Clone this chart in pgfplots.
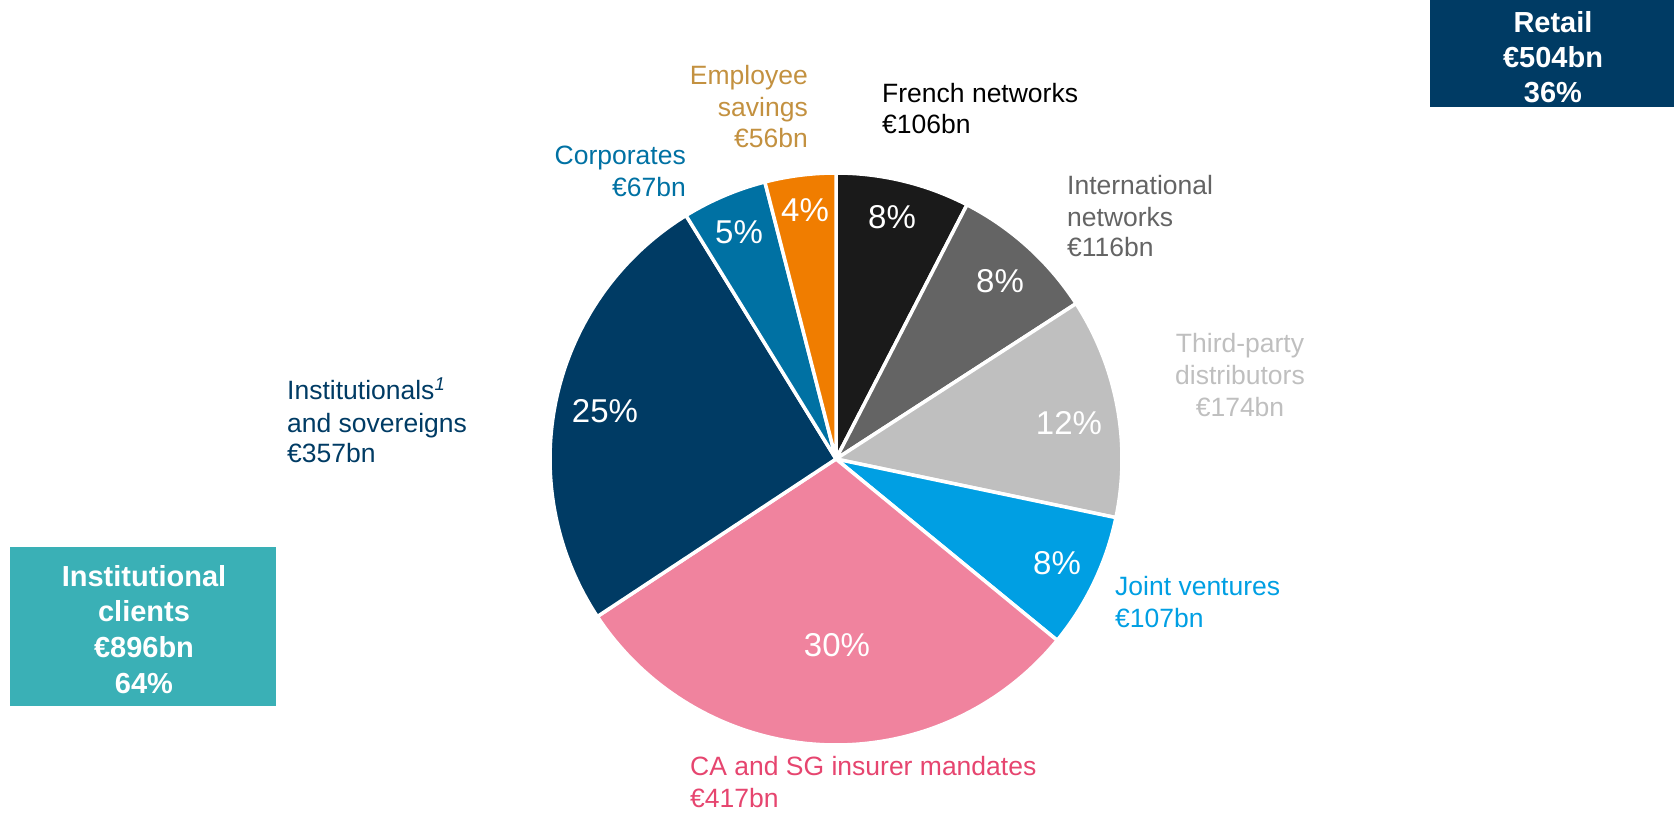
\documentclass[border=0pt]{standalone}
\usepackage{pgfplots}
\pgfplotsset{compat=1.18}
\usepackage{fontspec}
\setmainfont{Liberation Sans}
\definecolor{cfrench}{HTML}{1A1A1A}
\definecolor{cintl}{HTML}{646464}
\definecolor{cthird}{HTML}{BFBFBF}
\definecolor{cjoint}{HTML}{009FE3}
\definecolor{cca}{HTML}{F0839E}
\definecolor{ccatext}{HTML}{E6456F}
\definecolor{cinst}{HTML}{003B64}
\definecolor{ccorp}{HTML}{0071A3}
\definecolor{cempl}{HTML}{F07D00}
\definecolor{cempltext}{HTML}{C39140}
\definecolor{cinstbox}{HTML}{3AB0B6}
% total 1400 (EUR bn); slices start at 90 deg, run clockwise
% cumulative: 0,106,222,396,503,920,1277,1344,1400
\newcommand{\slice}[3]{%
  \addplot[draw=white, line width=3.5pt, line join=round, fill=#3,
    domain={90-#2*360/1400}:{90-#1*360/1400}, samples=90, variable=\t]
    ({836+286*cos(\t)},{353+286*sin(\t)}) -- (axis cs:836,353) -- cycle;}
\newcommand{\lbl}[5]{\node[anchor=#3, inner sep=0pt, text=#4, font=\fontsize{26.5}{32}\selectfont] at (axis cs:#1,#2) {#5};}
\newcommand{\pct}[3]{\node[anchor=center, inner sep=0pt, text=white, font=\fontsize{33}{38}\selectfont] at (axis cs:#1,#2) {#3};}
\newcommand{\bx}[4]{\node[anchor=base, inner sep=0pt, text=white, font=\bfseries\fontsize{29}{35}\selectfont] at (axis cs:#1,#2) {#3};}
\begin{document}
\begin{tikzpicture}
\useasboundingbox (0,0) rectangle (1674pt,812pt);
\begin{axis}[at={(0,0)}, anchor=south west, scale only axis,
  width=1674pt, height=812pt, xmin=0, xmax=1674, ymin=0, ymax=812,
  hide axis, clip=false]
% French networks 106
\slice{0}{106}{cfrench}
% International networks 116
\slice{106}{222}{cintl}
% Third-party distributors 174
\slice{222}{396}{cthird}
% Joint ventures 107
\slice{396}{503}{cjoint}
% CA and SG insurer mandates 417
\slice{503}{920}{cca}
% Institutionals and sovereigns 357
\slice{920}{1277}{cinst}
% Corporates 67
\slice{1277}{1344}{ccorp}
% Employee savings 56
\slice{1344}{1400}{cempl}

% percentages
\pct{892}{595}{8\%}
\pct{1000}{531}{8\%}
\pct{1069}{389}{12\%}
\pct{1057}{249}{8\%}
\pct{837}{167}{30\%}
\pct{605}{401}{25\%}
\pct{739}{580}{5\%}
\pct{805}{602}{4\%}

% labels
\lbl{808}{727}{base east}{cempltext}{Employee}
\lbl{808}{695}{base east}{cempltext}{savings}
\lbl{808}{664}{base east}{cempltext}{€56bn}
\lbl{686}{647}{base east}{ccorp}{Corporates}
\lbl{686}{615}{base east}{ccorp}{€67bn}
\lbl{882}{709}{base west}{black}{French networks}
\lbl{882}{678}{base west}{black}{€106bn}
\lbl{1067}{617}{base west}{cintl}{International}
\lbl{1067}{585}{base west}{cintl}{networks}
\lbl{1067}{555}{base west}{cintl}{€116bn}
\lbl{1240}{459}{base}{cthird}{Third-party}
\lbl{1240}{427}{base}{cthird}{distributors}
\lbl{1240}{395}{base}{cthird}{€174bn}
\lbl{1115}{216}{base west}{cjoint}{Joint ventures}
\lbl{1115}{184}{base west}{cjoint}{€107bn}
\lbl{690}{37}{base west}{ccatext}{CA and SG insurer mandates}
\lbl{690}{5}{base west}{ccatext}{€417bn}
\lbl{287}{412}{base west}{cinst}{Institutionals\textsuperscript{\itshape 1}}
\lbl{287}{379}{base west}{cinst}{and sovereigns}
\lbl{287}{349}{base west}{cinst}{€357bn}

% boxes
\fill[cinst] (axis cs:1430,705) rectangle (axis cs:1674,812);
\bx{1553}{779}{Retail}{}
\bx{1553}{744}{€504bn}{}
\bx{1553}{709}{36\%}{}
\fill[cinstbox] (axis cs:10,106) rectangle (axis cs:276,265);
\bx{144}{225}{Institutional}{}
\bx{144}{190}{clients}{}
\bx{144}{154}{€896bn}{}
\bx{144}{119}{64\%}{}
\end{axis}
\end{tikzpicture}
\end{document}
